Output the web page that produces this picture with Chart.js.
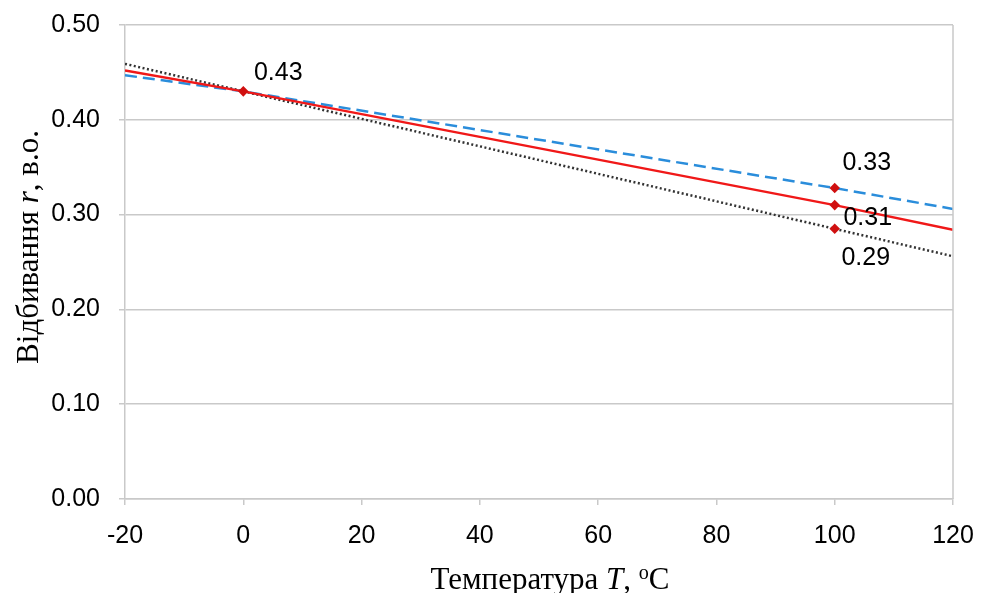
<!DOCTYPE html>
<html>
<head>
<meta charset="utf-8">
<script src="https://cdn.jsdelivr.net/npm/chart.js@4.4.1/dist/chart.umd.min.js"></script>
<style>
  html, body { margin: 0; padding: 0; background: #fff; }
  #wrap { width: 983px; height: 593px; position: relative; }
</style>
</head>
<body>
<div id="wrap"><canvas id="cvs"></canvas></div>
<script>
//-------------------------------------------------------------------
// data
//-------------------------------------------------------------------
const temperatures = [-20, 0, 100, 120];
const redValues    = [0.452, 0.43, 0.31, 0.284];
const blueValues   = [0.447, 0.43, 0.328, 0.306];
const blackValues  = [0.459, 0.43, 0.285, 0.256];
const xTicks = [-20, 0, 20, 40, 60, 80, 100, 120];
const yTicks = [0.00, 0.10, 0.20, 0.30, 0.40, 0.50];

// value labels: [series, point index, text]
const valueLabels = [
  ['red',   1, '0.43'],
  ['blue',  2, '0.33'],
  ['red',   2, '0.31'],
  ['black', 2, '0.29']
];

//-------------------------------------------------------------------
// styles
//-------------------------------------------------------------------
const LABEL_OFFSETS = {
  '0.43': [35, -18],
  '0.33': [32, -25],
  '0.31': [33, 13],
  '0.29': [31, 29]
};
const GRID = '#c9c9c9';
const SANS = '"Liberation Sans", Arial, sans-serif';
const SERIF = '"Liberation Serif", "Times New Roman", serif';

function toPoints(values) {
  return temperatures.map((t, i) => ({ x: t, y: values[i] }));
}

function markerRadius(idxList) {
  return temperatures.map((t, i) => idxList.includes(i) ? 3.5 : 0);
}

//-------------------------------------------------------------------
// plugins
//-------------------------------------------------------------------
const frameRight = {
  id: 'frameRight',
  afterDraw(chart) {
    const a = chart.chartArea, ctx = chart.ctx;
    ctx.save();
    ctx.strokeStyle = GRID;
    ctx.lineWidth = 1.5;
    ctx.beginPath();
    ctx.moveTo(a.right, a.top);
    ctx.lineTo(a.right, a.bottom);
    ctx.stroke();
    ctx.restore();
  }
};

const pointLabels = {
  id: 'pointLabels',
  afterDatasetsDraw(chart) {
    const ctx = chart.ctx;
    ctx.save();
    ctx.font = '25px ' + SANS;
    ctx.fillStyle = '#000';
    ctx.textAlign = 'center';
    ctx.textBaseline = 'middle';
    valueLabels.forEach(([key, idx, txt]) => {
      const dsIndex = chart.data.datasets.findIndex(d => d.key === key);
      const el = chart.getDatasetMeta(dsIndex).data[idx];
      const off = LABEL_OFFSETS[txt];
      ctx.fillText(txt, el.x + off[0], el.y + off[1]);
    });
    ctx.restore();
  }
};

// axis titles with mixed italic / superscript parts
function drawRich(ctx, parts, size) {
  let total = 0;
  parts.forEach(p => {
    ctx.font = (p.italic ? 'italic ' : '') + (p.sup ? size * 0.65 : size) + 'px ' + SERIF;
    p.w = ctx.measureText(p.t).width;
    total += p.w;
  });
  let x = -total / 2;
  parts.forEach(p => {
    ctx.font = (p.italic ? 'italic ' : '') + (p.sup ? size * 0.65 : size) + 'px ' + SERIF;
    ctx.fillText(p.t, x, p.sup ? -size * 0.33 : 0);
    x += p.w;
  });
}

const axisTitles = {
  id: 'axisTitles',
  afterDraw(chart) {
    const ctx = chart.ctx;
    ctx.save();
    ctx.fillStyle = '#000';
    ctx.textAlign = 'left';
    ctx.textBaseline = 'alphabetic';

    ctx.save();
    ctx.translate(550, 589);
    drawRich(ctx, [
      { t: 'Температура ' },
      { t: 'T', italic: true },
      { t: ', ' },
      { t: 'o', sup: true },
      { t: 'C' }
    ], 31);
    ctx.restore();

    ctx.save();
    ctx.translate(38, 247);
    ctx.rotate(-Math.PI / 2);
    drawRich(ctx, [
      { t: 'Відбивання ' },
      { t: 'r', italic: true },
      { t: ', в.о.' }
    ], 31);
    ctx.restore();

    ctx.restore();
  }
};

//-------------------------------------------------------------------
// chart
//-------------------------------------------------------------------
const ctx = document.getElementById('cvs').getContext('2d');

new Chart(ctx, {
  type: 'line',
  data: {
    datasets: [
      {
        key: 'blue',
        data: toPoints(blueValues),
        borderColor: '#2a8ddb',
        borderWidth: 2.5,
        borderDash: [12, 6],
        pointRadius: markerRadius([2]),
        pointStyle: 'rectRot',
        pointBackgroundColor: '#d01010',
        pointBorderColor: '#d01010',
        order: 3
      },
      {
        key: 'black',
        data: toPoints(blackValues),
        borderColor: '#333',
        borderWidth: 2.5,
        borderDash: [2, 2.5],
        pointRadius: markerRadius([2]),
        pointStyle: 'rectRot',
        pointBackgroundColor: '#d01010',
        pointBorderColor: '#d01010',
        order: 2
      },
      {
        key: 'red',
        data: toPoints(redValues),
        borderColor: '#f01818',
        borderWidth: 2.5,
        pointRadius: markerRadius([1, 2]),
        pointStyle: 'rectRot',
        pointBackgroundColor: '#d01010',
        pointBorderColor: '#d01010',
        order: 1
      }
    ]
  },
  options: {
    animation: false,
    responsive: true,
    maintainAspectRatio: false,
    layout: { padding: { top: 25, right: 30, left: 0, bottom: 0 } },
    plugins: {
      legend: { display: false },
      tooltip: { enabled: false }
    },
    scales: {
      x: {
        type: 'linear',
        min: -20,
        max: 120,
        afterBuildTicks: (scale) => { scale.ticks = xTicks.map(v => ({ value: v })); },
        afterFit: (scale) => {
          scale.height = 94;
          scale.paddingLeft = 0;
          scale.paddingRight = 0;
        },
        border: { display: true, color: GRID, width: 1.5 },
        grid: { drawOnChartArea: false, drawTicks: true, tickLength: 6, color: GRID, lineWidth: 1.5 },
        ticks: {
          color: '#000',
          font: { family: SANS, size: 25 },
          padding: 16,
          maxRotation: 0
        }
      },
      y: {
        min: 0,
        max: 0.5,
        afterBuildTicks: (scale) => { scale.ticks = yTicks.map(v => ({ value: v })); },
        afterFit: (scale) => {
          scale.width = 125;
          scale.paddingTop = 0;
          scale.paddingBottom = 0;
        },
        border: { display: true, color: GRID, width: 1.5 },
        grid: { drawTicks: true, tickLength: 6, color: GRID, lineWidth: 1.5 },
        ticks: {
          color: '#000',
          font: { family: SANS, size: 25 },
          padding: 19,
          callback: (val) => val.toFixed(2)
        }
      }
    }
  },
  plugins: [frameRight, pointLabels, axisTitles]
});
</script>
</body>
</html>
